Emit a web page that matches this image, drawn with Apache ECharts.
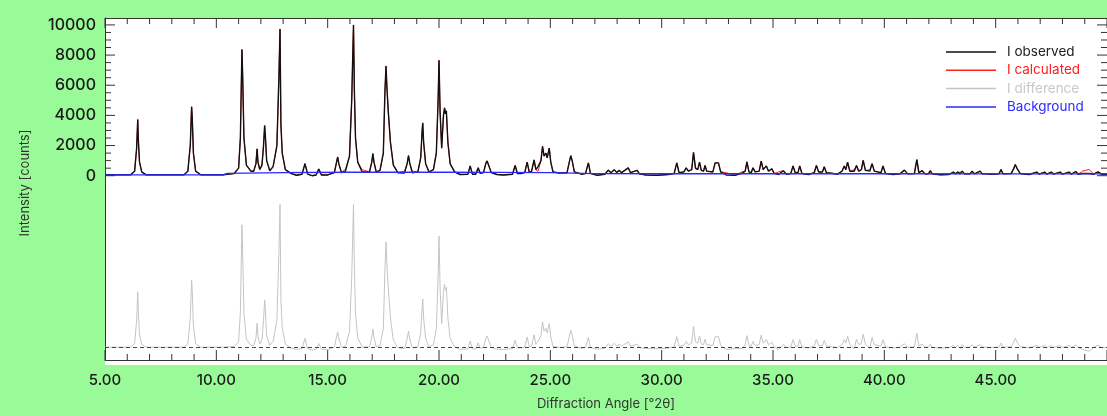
<!DOCTYPE html>
<html><head><meta charset="utf-8">
<script src="https://cdn.jsdelivr.net/npm/echarts@6/dist/echarts.min.js"></script>
<style>html,body{margin:0;padding:0;background:#98fb98}
#wrap{position:relative;width:1107px;height:416px}
#plotbg{position:absolute;left:105px;top:18px;width:1002px;height:347px;background:#fff}
#c{position:absolute;left:0;top:0;width:1107px;height:416px}</style>
</head><body><div id="wrap"><div id="plotbg"></div><div id="c"></div></div><script>
// Diffraction angle (°2θ) sample points
const twoTheta = [
 5.0,6.15,6.33,6.42,6.47,6.50,6.55,6.65,6.85,
 8.55,8.72,8.83,8.89,8.92,8.97,9.07,9.3,10.3,
 10.8,11.0,11.08,11.15,11.18,11.24,11.35,11.55,
 11.68,11.78,11.83,11.87,11.95,12.05,12.12,12.17,12.2,12.26,12.4,
 12.55,12.72,12.81,12.86,12.9,12.96,13.1,13.35,13.6,
 13.85,13.98,14.1,14.3,14.48,14.6,14.72,15.0,
 15.3,15.4,15.45,15.5,15.62,15.8,15.98,16.08,16.16,16.2,16.25,16.35,16.55,
 16.88,16.98,17.03,17.08,17.18,17.35,17.5,17.57,17.62,17.66,17.72,17.76,17.82,17.95,18.15,
 18.45,18.57,18.63,18.69,18.8,19.05,19.18,19.24,19.27,19.31,19.4,19.55,
 19.75,19.88,19.96,20.0,20.05,20.12,20.2,20.25,20.29,20.33,20.4,20.5,20.7,20.95,
 21.3,21.4,21.5,21.65,21.76,21.85,22.0,22.1,22.16,22.24,22.35,22.6,22.9,
 23.3,23.42,23.52,23.7,23.85,23.96,24.05,24.15,24.27,24.35,24.45,24.58,24.65,24.72,24.8,24.86,24.95,25.02,25.12,25.4,
 25.75,25.88,25.92,25.98,26.08,26.4,26.58,26.71,26.8,27.1,27.45,
 27.6,27.72,27.87,27.98,28.1,28.2,28.5,28.6,28.9,29.0,29.3,29.8,30.3,
 30.56,30.68,30.78,31.0,31.1,31.2,31.35,31.43,31.52,31.62,31.7,31.78,31.88,31.95,32.02,
 32.3,32.4,32.55,32.65,32.9,33.3,33.6,33.75,33.83,33.92,34.02,34.1,34.2,
 34.38,34.47,34.56,34.7,34.8,34.95,35.05,35.25,35.46,35.6,35.8,35.9,36.0,36.12,36.2,36.3,36.6,
 36.85,36.95,37.05,37.22,37.3,37.4,37.7,37.9,38.1,38.2,38.27,38.35,38.45,38.65,38.75,38.85,
 38.97,39.05,39.15,39.35,39.45,39.55,39.85,39.94,40.05,40.4,40.7,40.9,41.05,
 41.35,41.46,41.55,41.7,41.82,41.98,42.06,42.15,42.5,42.9,43.1,43.2,43.3,43.4,43.5,43.6,
 43.85,43.94,44.05,44.3,44.4,44.6,44.68,44.78,45.15,45.24,45.33,45.7,45.82,45.88,45.97,46.1,46.5,
 46.85,46.95,47.2,47.3,47.5,47.6,47.9,48.0,48.3,48.4,48.6,48.7,48.9,49.2,49.4,49.6,49.75,50.0
];
// I observed (counts)
const iObserved = [
 60,60,300,1800,3725,2300,900,250,60,
 60,300,2000,4575,3800,1500,300,60,60,
 150,500,2500,8370,6800,2500,700,300,
 300,800,1780,900,410,700,2000,3330,2700,1000,330,
 600,2000,6500,9720,3400,1500,400,150,30,
 100,800,100,0,50,450,50,50,
 200,900,1240,800,200,300,1300,5000,10000,5600,2500,900,250,
 250,900,1460,900,250,350,1500,5500,7280,5900,4300,4200,2200,700,200,
 180,800,1330,800,200,250,1200,2900,3500,2200,800,250,
 400,1500,5000,7650,4200,1830,4000,4500,4100,4300,2200,800,250,80,
 100,650,100,100,520,150,200,800,980,850,200,80,50,
 100,680,150,150,200,900,250,250,1050,400,600,1000,1940,1300,1500,1180,1830,900,250,180,
 200,1100,1330,1000,250,100,150,850,150,30,100,
 370,200,400,220,350,200,520,200,350,120,50,30,80,
 150,850,200,250,520,300,400,1550,500,400,900,350,300,680,300,
 250,850,850,250,50,30,150,300,920,250,200,520,250,
 300,960,400,650,300,460,150,80,330,100,150,650,200,200,650,150,80,
 200,680,250,250,590,200,150,100,300,650,400,900,300,300,680,300,
 400,1020,350,300,800,300,200,650,150,80,120,370,120,
 150,1070,200,330,120,120,330,120,60,80,240,120,240,120,300,120,
 120,300,120,300,120,120,240,100,120,410,120,150,500,740,450,150,80,
 240,100,240,100,240,100,240,100,240,100,280,100,150,150,100,250,100,100
];
// I calculated (counts)
const iCalculated = [
 60,60,300,1800,3725,2300,900,250,60,
 60,300,2000,4575,3800,1500,300,60,60,
 150,500,2500,8370,6800,2500,700,300,
 300,800,1780,900,410,700,2000,3330,2700,1000,330,
 600,2000,6500,9720,3400,1500,400,150,30,
 100,800,100,0,50,450,50,50,
 200,900,1240,800,200,450,1300,5000,10000,5600,2500,900,400,
 250,900,1460,900,250,350,1500,5500,7280,5900,4300,4200,2200,700,200,
 300,800,1330,800,300,250,1200,2900,3500,2200,800,250,
 400,1500,5000,7650,4200,1830,4000,4500,4100,4300,2200,800,250,80,
 100,650,100,100,520,150,200,800,980,850,200,80,50,
 100,680,150,150,200,900,250,250,1050,400,300,1000,1940,1300,1500,1180,1830,900,250,180,
 200,1100,1330,1000,250,100,150,850,150,30,100,
 370,200,400,220,350,200,520,200,350,120,50,30,80,
 150,850,200,250,520,300,400,1550,500,400,900,350,300,680,300,
 250,850,850,250,200,30,250,300,920,250,200,520,250,
 300,960,400,650,300,460,150,250,330,100,150,650,200,200,650,150,80,
 200,680,250,250,590,200,150,100,300,650,400,900,300,400,680,300,
 400,1020,350,400,800,300,200,650,150,80,120,370,120,
 150,1070,200,330,120,120,330,120,60,80,240,120,240,220,300,120,
 120,300,120,300,120,120,240,100,120,410,120,150,500,740,450,150,80,
 240,100,240,100,240,100,240,100,240,100,280,100,300,420,100,250,100,100
];
// I difference (counts)
const iDifference = [
 0,0,250,1800,3800,2300,850,200,0,
 0,250,2000,4600,3800,1450,250,0,0,
 50,350,2400,8400,6700,2350,550,120,
 120,600,1650,750,220,500,1850,3240,2550,820,130,
 400,1850,6400,9780,3250,1350,220,-50,-150,
 -100,600,-100,-200,-150,250,-150,-150,
 0,700,1050,600,0,50,1050,4800,9780,5400,2300,650,0,
 20,680,1250,680,20,120,1270,5300,7230,5700,4100,4000,2000,480,-30,
 -100,560,1100,560,-50,20,980,2700,3300,2000,580,20,
 170,1280,4800,7615,4000,1600,3800,4300,3900,4100,2000,580,30,-150,
 -120,420,-120,-120,300,-70,-20,580,760,630,-20,-140,-160,
 -100,480,-50,-50,0,700,50,50,850,200,400,800,1740,1100,1300,980,1630,700,50,-20,
 30,930,1160,830,80,-70,-20,680,-20,-140,-70,
 230,60,260,80,210,60,380,60,210,-20,-90,-110,-60,
 20,720,70,120,390,170,270,1420,370,270,770,220,170,550,170,
 120,720,720,120,-150,-100,-100,170,790,120,70,390,120,
 170,830,270,520,170,330,20,-170,200,-30,20,520,70,70,520,20,-50,
 70,550,120,120,460,70,20,-30,170,520,270,770,170,-100,550,170,
 270,890,220,-100,670,170,70,520,20,-50,-10,240,-10,
 30,950,80,210,0,0,210,0,-60,-40,120,0,120,-100,180,0,
 0,180,0,180,0,0,120,-20,0,290,0,30,380,620,330,30,-40,
 120,-20,120,-20,120,-20,120,-20,120,-20,160,-20,-150,-270,-20,130,-20,-20
];
// Background
const bgTheta = [5,10.3,10.5,13,16,20,22.5,25,27,30,35,40,45,50];
const iBackground = [60,60,150,200,230,240,220,200,140,130,130,130,120,120];

// Axis tick values
const yMajorTicks = [0,2000,4000,6000,8000,10000];
const yTickValues = [0,500,1000,1500,2000,2500,3000,3500,4000,4500,5000,5500,6000,6500,7000,7500,8000,8500,9000,9500,10000];
const xLabelTicks = [5,10,15,20,25,30,35,40,45];
const xTickValues = [5,6,7,8,9,10,11,12,13,14,15,16,17,18,19,20,21,22,23,24,25,26,27,28,29,30,31,32,33,34,35,36,37,38,39,40,41,42,43,44,45,46,47,48,49,50];

const zip = (xs, ys) => xs.map((x, i) => [x, ys[i]]);
const FONT = 'Inter';
const axisCol = '#333';
const Y0 = {min: -12222, max: 10458};
const X0 = {min: 5, max: 50};

// Inside tick marks drawn as thin rectangle symbols on the axis values
function tickItems(side) {
  const out = [];
  if (side === 'bottom' || side === 'top') {
    xTickValues.forEach(v => {
      const len = (v % 5 === 0) ? 10 : 6;
      const y = side === 'bottom' ? Y0.min : Y0.max;
      const off = side === 'bottom' ? -len / 2 : len / 2;
      out.push({value:[v, y], symbolSize:[1, len], symbolOffset:[0, off]});
    });
  } else {
    yTickValues.forEach(v => {
      const len = (v % 2000 === 0) ? 10 : 6;
      const x = side === 'left' ? X0.min : X0.max;
      const off = side === 'left' ? len / 2 : -len / 2;
      out.push({value:[x, v], symbolSize:[len, 1], symbolOffset:[off, 0]});
    });
  }
  return out;
}
function tickSeries(side) {
  return {type:'scatter', xAxisIndex:0, yAxisIndex:0, data:tickItems(side), symbol:'rect',
    itemStyle:{color:axisCol, opacity:1}, silent:true, clip:false, z:20,
    emphasis:{disabled:true}, animation:false, legendHoverLink:false};
}

const chart = echarts.init(document.getElementById('c'));
chart.setOption({
  animation:false,
  backgroundColor:'transparent',
  tooltip:{show:false},
  grid:{left:105, right:0, top:18, bottom:51},
  legend:{orient:'vertical', left:941, top:39, icon:'rect', itemWidth:50, itemHeight:1.5, itemGap:2.3,
    textStyle:{fontFamily:FONT, fontSize:13.5, lineHeight:16, padding:[0,0,0,6]},
    data:[
      {name:'I observed', textStyle:{color:'#222'}},
      {name:'I calculated', textStyle:{color:'#ff2020'}},
      {name:'I difference', textStyle:{color:'#c8c8c8'}},
      {name:'Background', textStyle:{color:'#2a2aff'}}
    ]},
  xAxis:[
    {type:'value', position:'bottom', min:X0.min, max:X0.max, interval:5, splitLine:{show:false},
     axisLine:{onZero:false, lineStyle:{color:axisCol}},
     axisTick:{show:false},
     axisLabel:{customValues:xLabelTicks, formatter:v=>v.toFixed(2), margin:13, color:'#1a1a1a', fontFamily:FONT, fontSize:15, fontWeight:500},
     name:'Diffraction Angle [°2θ]', nameLocation:'middle', nameGap:38,
     nameTextStyle:{color:'#333', fontFamily:FONT, fontSize:13}}
  ],
  yAxis:[
    {type:'value', position:'left', min:Y0.min, max:Y0.max, splitLine:{show:false},
     axisLine:{show:true, onZero:false, lineStyle:{color:axisCol}},
     axisTick:{show:false},
     axisLabel:{customValues:yMajorTicks, formatter:v=>String(v), margin:9, color:'#1a1a1a', fontFamily:FONT, fontSize:16, fontWeight:500},
     name:'Intensity [counts]', nameLocation:'middle', nameGap:73,
     nameTextStyle:{color:'#333', fontFamily:FONT, fontSize:13, padding:[0,0,0,12]}},
    {type:'value', show:false, min:-878, max:22568, splitLine:{show:false}}
  ],
  series:[
    {name:'I difference', type:'line', xAxisIndex:0, yAxisIndex:1, data:zip(twoTheta, iDifference),
     showSymbol:false, color:'#c4c4c4', lineStyle:{width:1, color:'#c4c4c4'}, z:2,
     markLine:{silent:true, symbol:'none', label:{show:false},
       lineStyle:{type:[4,3], color:'#444', width:1}, data:[{yAxis:0}]}},
    {name:'I calculated', type:'line', xAxisIndex:0, yAxisIndex:0, data:zip(twoTheta, iCalculated),
     showSymbol:false, color:'#ff2020', lineStyle:{width:1, color:'#ff2020'}, z:3,
     markLine:{silent:true, symbol:'none', label:{show:false},
       lineStyle:{type:'solid', color:axisCol, width:1}, data:[{yAxis:Y0.max}, {xAxis:X0.max}]}},
    {name:'I observed', type:'line', xAxisIndex:0, yAxisIndex:0, data:zip(twoTheta, iObserved),
     showSymbol:false, color:'#111', lineStyle:{width:1.4, color:'#111'}, z:4},
    {name:'Background', type:'line', xAxisIndex:0, yAxisIndex:0, data:zip(bgTheta, iBackground),
     showSymbol:false, color:'#2a2aff', lineStyle:{width:1.3, color:'#2a2aff'}, z:5},
    tickSeries('bottom'), tickSeries('top'), tickSeries('left'), tickSeries('right')
  ]
});
</script></body></html>
